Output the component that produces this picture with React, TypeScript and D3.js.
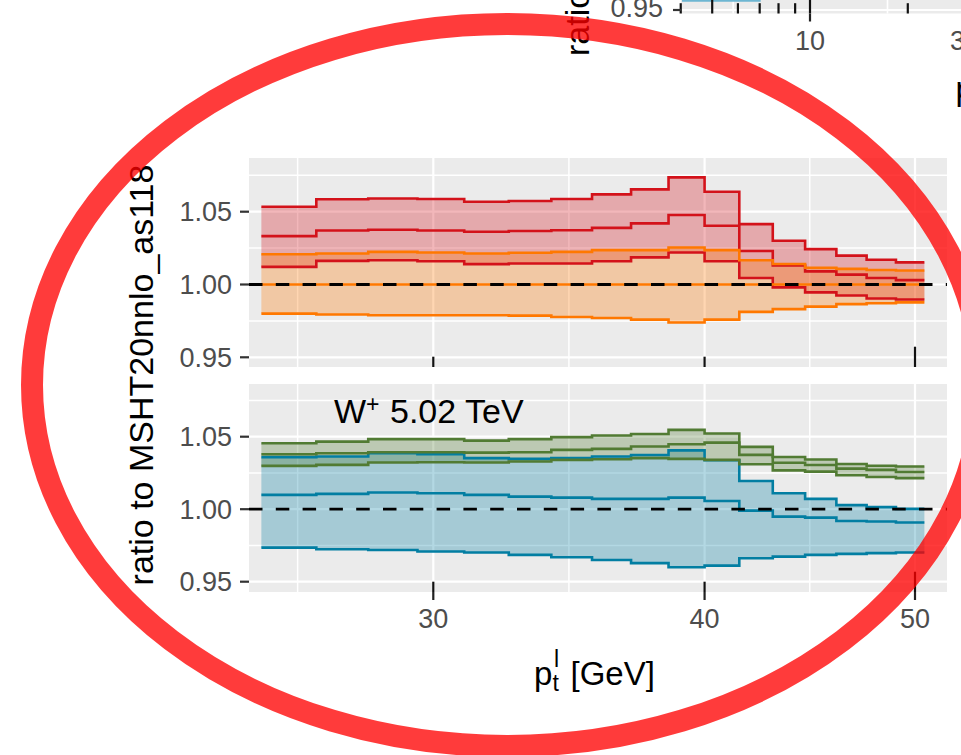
import React from 'react';
import * as d3 from 'd3';

// ---------- data ----------
const binEdges = [25, 26.5, 28, 29.5, 31, 32.5, 34, 35.5, 37, 38.5, 40, 41.5, 43, 44.5, 46, 47.5, 49, 50.5];

// top panel
const redHi = [1.0534, 1.0585, 1.0591, 1.0587, 1.0568, 1.0574, 1.0587, 1.0619, 1.0653, 1.0736, 1.0637, 1.0415, 1.0300, 1.0243, 1.0198, 1.0170, 1.0152];
const redMid = [1.0332, 1.0371, 1.0376, 1.0371, 1.0362, 1.0367, 1.0373, 1.0389, 1.0420, 1.0477, 1.0404, 1.0230, 1.0130, 1.0090, 1.0068, 1.0045, 1.0030];
const redLo = [1.0121, 1.0162, 1.0167, 1.0160, 1.0140, 1.0144, 1.0144, 1.0160, 1.0186, 1.0220, 1.0160, 1.0045, 0.9980, 0.9946, 0.9924, 0.9904, 0.9897];
const orangeHi = [1.0208, 1.0213, 1.0224, 1.0220, 1.0213, 1.0218, 1.0224, 1.0236, 1.0236, 1.0254, 1.0236, 1.0167, 1.0141, 1.0115, 1.0107, 1.0100, 1.0096];
const orangeMid = [1, 1, 1, 1, 1, 1, 1, 1, 1, 1, 1, 1, 1, 1, 1, 1, 1];
const orangeLo = [0.9800, 0.9794, 0.9789, 0.9789, 0.9789, 0.9786, 0.9777, 0.9770, 0.9759, 0.9739, 0.9759, 0.9812, 0.9831, 0.9848, 0.9865, 0.9871, 0.9877];

// bottom panel
const greenHi = [1.0455, 1.0466, 1.0483, 1.0483, 1.0473, 1.0483, 1.0497, 1.0508, 1.0519, 1.0547, 1.0522, 1.0430, 1.0360, 1.0343, 1.0312, 1.0300, 1.0294];
const greenMid = [1.0379, 1.0386, 1.0393, 1.0393, 1.0390, 1.0393, 1.0409, 1.0416, 1.0432, 1.0448, 1.0459, 1.0375, 1.0320, 1.0305, 1.0280, 1.0271, 1.0257];
const greenLo = [1.0299, 1.0306, 1.0322, 1.0324, 1.0322, 1.0329, 1.0340, 1.0345, 1.0352, 1.0347, 1.0340, 1.0310, 1.0268, 1.0259, 1.0234, 1.0222, 1.0214];
const blueHi = [1.0359, 1.0363, 1.0386, 1.0379, 1.0352, 1.0347, 1.0352, 1.0363, 1.0374, 1.0406, 1.0338, 1.0195, 1.0110, 1.0071, 1.0028, 1.0014, 1.0002];
const blueMid = [1.0099, 1.0106, 1.0115, 1.0110, 1.0099, 1.0087, 1.0080, 1.0071, 1.0071, 1.0080, 1.0057, 0.9990, 0.9949, 0.9942, 0.9919, 0.9915, 0.9908];
const blueLo = [0.9735, 0.9724, 0.9719, 0.9708, 0.9701, 0.9685, 0.9669, 0.9650, 0.9628, 0.9600, 0.9611, 0.9662, 0.9673, 0.9685, 0.9692, 0.9697, 0.9701];

const xMajor = [30, 40, 50];
const xMinor = [25.98, 34.64, 44.72];
const xTickLabels = ['30', '40', '50'];
const logTicks = [30, 40, 50];
const logTickLen = [10.3, 10.3, 20.3];
const yMajor = [0.95, 1.0, 1.05];
const yMinor = [0.975, 1.025, 1.075];
const yTickLabels = ['0.95', '1.00', '1.05'];

// partial panel (top right, mostly outside the crop)
const pMajor = [10, 30];
const pMinor = [5.8, 17.32];
const pLogTicks = [4, 5, 6, 7, 8, 9, 10, 20];
const pLogTickLen = [10.3, 20.3, 10.3, 10.3, 10.3, 10.3, 30.3, 10.3];
const pTickLabels = ['10', '30'];

const FONT = "'Liberation Sans', Arial, Helvetica, sans-serif";
const GREY = '#ebebeb';

const RED = '#d3121a';
const ORANGE = '#ff7800';
const GREEN = '#517b33';
const BLUE = '#027ea2';

export default function App() {
  const x = d3.scaleLog().domain([30, 50]).range([433.3, 915]);
  const left = 249;
  const right = 947;

  const panels = [
    {
      top: 158, bottom: 367,
      y: d3.scaleLinear().domain([0.95, 1.05]).range([357.3, 211.7]),
      bands: [
        { hi: redHi, mid: redMid, lo: redLo, color: RED },
        { hi: orangeHi, mid: orangeMid, lo: orangeLo, color: ORANGE },
      ],
      axis: false,
    },
    {
      top: 384, bottom: 592,
      y: d3.scaleLinear().domain([0.95, 1.05]).range([581.7, 436.7]),
      bands: [
        { hi: blueHi, mid: blueMid, lo: blueLo, color: BLUE },
        { hi: greenHi, mid: greenMid, lo: greenLo, color: GREEN },
      ],
      axis: true,
    },
  ];

  const pts = (vals: number[]) => binEdges.map((e, i) => [e, vals[Math.min(i, vals.length - 1)]] as [number, number]);

  const xp = d3.scaleLog().domain([10, 30]).range([810, 965]);

  return (
    <svg width={961} height={755} style={{ position: 'absolute', left: 0, top: 0, display: 'block', background: '#fff' }} fontFamily={FONT}>
      <rect x={0} y={0} width={961} height={755} fill="#fff" />

      {/* ---------- partial upper-right panel ---------- */}
      <rect x={681} y={-5} width={290} height={18.5} fill={GREY} />
      {pMinor.map((v, i) => (
        <line key={'pm' + i} x1={xp(v)} x2={xp(v)} y1={-5} y2={13.5} stroke="#fff" strokeWidth={1.6} />
      ))}
      {pMajor.map((v, i) => (
        <line key={'pM' + i} x1={xp(v)} x2={xp(v)} y1={-5} y2={13.5} stroke="#fff" strokeWidth={2.2} />
      ))}
      <line x1={681} x2={961} y1={10} y2={10} stroke="#fff" strokeWidth={2.2} />
      <line x1={682} x2={xp(7.05)} y1={0.8} y2={0.8} stroke="#6db6d2" strokeWidth={1.8} />
      {pLogTicks.map((v, i) => (
        <line key={'plt' + i} x1={xp(v)} x2={xp(v)} y1={13.5 - pLogTickLen[i]} y2={13.5} stroke="#111" strokeWidth={2.2} />
      ))}
      {pMajor.map((v, i) => (
        <line key={'pat' + i} x1={xp(v)} x2={xp(v)} y1={13.5} y2={21.5} stroke="#222" strokeWidth={2.2} />
      ))}
      {pMajor.map((v, i) => (
        <text key={'ptl' + i} x={xp(v)} y={50} fontSize={27} fill="#4d4d4d" textAnchor="middle">{pTickLabels[i]}</text>
      ))}
      <line x1={673} x2={681} y1={10} y2={10} stroke="#333" strokeWidth={2.2} />
      <text x={663} y={17} fontSize={27} fill="#4d4d4d" textAnchor="end">0.95</text>
      <text transform="translate(589,56) rotate(-90)" fontSize={34} fill="#000" textAnchor="start">ratio to MSHT20nnlo_as118</text>
      <text x={955.5} y={100} fontSize={33} fill="#000">p</text>

      {/* ---------- main panels ---------- */}
      {panels.map((p, pi) => {
        const y = p.y;
        const line = d3.line<[number, number]>().x(d => x(d[0])).y(d => y(d[1])).curve(d3.curveStepAfter);
        const area = d3.area<[number, number, number]>()
          .x(d => x(d[0])).y0(d => y(d[1])).y1(d => y(d[2])).curve(d3.curveStepAfter);
        return (
          <g key={'panel' + pi}>
            <rect x={left} y={p.top} width={right - left} height={p.bottom - p.top} fill={GREY} />
            {yMinor.map((v, i) => (
              <line key={'ym' + i} x1={left} x2={right} y1={y(v)} y2={y(v)} stroke="#fff" strokeWidth={1.5} />
            ))}
            {xMinor.map((v, i) => (
              <line key={'xm' + i} x1={x(v)} x2={x(v)} y1={p.top} y2={p.bottom} stroke="#fff" strokeWidth={1.5} />
            ))}
            {yMajor.map((v, i) => (
              <line key={'yM' + i} x1={left} x2={right} y1={y(v)} y2={y(v)} stroke="#fff" strokeWidth={2.2} />
            ))}
            {xMajor.map((v, i) => (
              <line key={'xM' + i} x1={x(v)} x2={x(v)} y1={p.top} y2={p.bottom} stroke="#fff" strokeWidth={2.2} />
            ))}

            {p.bands.map((b, bi) => {
              const data = binEdges.map((e, i) => {
                const k = Math.min(i, b.hi.length - 1);
                return [e, b.lo[k], b.hi[k]] as [number, number, number];
              });
              return <path key={'f' + bi} d={area(data) || ''} fill={b.color} fillOpacity={0.3} stroke="none" />;
            })}
            {p.bands.map((b, bi) => (
              <g key={'l' + bi}>
                {[b.hi, b.mid, b.lo].map((vals, li) => (
                  <path key={li} d={line(pts(vals)) || ''} fill="none" stroke={b.color} strokeWidth={2.6} />
                ))}
              </g>
            ))}

            <line x1={left} x2={right} y1={y(1)} y2={y(1)} stroke="#000" strokeWidth={2.8} strokeDasharray="13.5 13.3" />

            {logTicks.map((v, i) => (
              <line key={'lt' + i} x1={x(v)} x2={x(v)} y1={p.bottom - logTickLen[i]} y2={p.bottom} stroke="#111" strokeWidth={2.2} />
            ))}

            {yMajor.map((v, i) => (
              <g key={'yt' + i}>
                <line x1={240} x2={left} y1={y(v)} y2={y(v)} stroke="#333" strokeWidth={2.2} />
                <text x={232} y={y(v) + 9.7} fontSize={27} fill="#4d4d4d" textAnchor="end">{yTickLabels[i]}</text>
              </g>
            ))}

            {p.axis && xMajor.map((v, i) => (
              <g key={'xt' + i}>
                <line x1={x(v)} x2={x(v)} y1={p.bottom} y2={p.bottom + 8} stroke="#222" strokeWidth={2.2} />
                <text x={x(v)} y={628} fontSize={27} fill="#4d4d4d" textAnchor="middle">{xTickLabels[i]}</text>
              </g>
            ))}
          </g>
        );
      })}

      {/* facet annotation */}
      <text x={334} y={423} fontSize={34} fill="#000">
        <tspan>W</tspan>
        <tspan fontSize={23} dy={-11.5}>+</tspan>
        <tspan x={390} dy={11.5}>5.02 TeV</tspan>
      </text>

      {/* y axis title */}
      <text transform="translate(153,375) rotate(-90)" fontSize={34} fill="#000" textAnchor="middle">ratio to MSHT20nnlo_as118</text>

      {/* x axis title */}
      <text x={534} y={685} fontSize={33} fill="#000">p</text>
      <text x={554} y={667} fontSize={23} fill="#000">l</text>
      <text x={552.5} y={691} fontSize={23} fill="#000">t</text>
      <text x={570.5} y={685} fontSize={33} fill="#000">[GeV]</text>

      {/* red annotation ellipse */}
      <ellipse cx={507} cy={385} rx={475} ry={361} fill="none" stroke="#ff0000" strokeOpacity={0.77} strokeWidth={22} />
    </svg>
  );
}
